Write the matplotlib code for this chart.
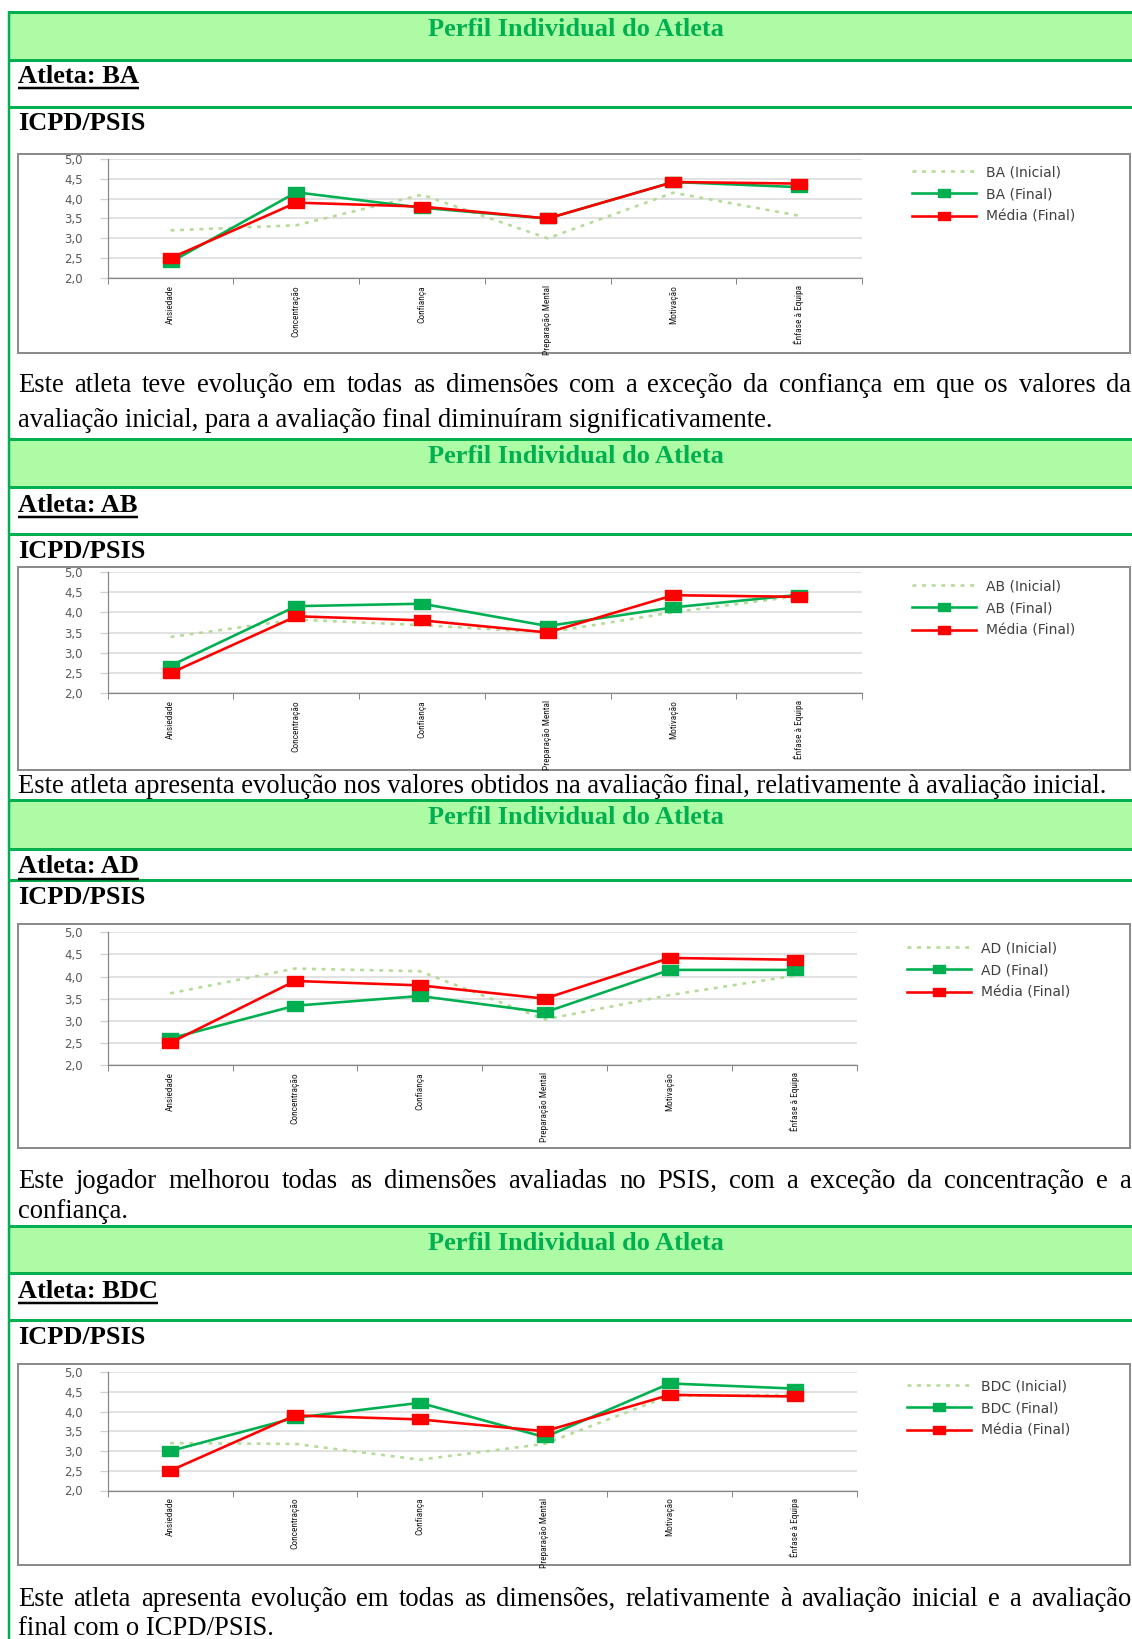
import matplotlib
matplotlib.use('Agg')
import matplotlib.pyplot as plt
from matplotlib.patches import Rectangle
import numpy as np

# ---------------- data ----------------
categories = ['Ansiedade', 'Concentração', 'Confiança', 'Preparação Mental',
              'Motivação', 'Ênfase à Equipa']
y_ticks = [2.0, 2.5, 3.0, 3.5, 4.0, 4.5, 5.0]
y_tick_labels = ['2,0', '2,5', '3,0', '3,5', '4,0', '4,5', '5,0']

media_final = [2.50, 3.90, 3.80, 3.50, 4.42, 4.38]

athletes = ['BA', 'AB', 'AD', 'BDC']
ba_inicial = [3.20, 3.33, 4.10, 3.00, 4.15, 3.57]
ba_final = [2.40, 4.16, 3.77, 3.50, 4.42, 4.29]
ab_inicial = [3.39, 3.82, 3.68, 3.50, 4.00, 4.40]
ab_final = [2.68, 4.15, 4.21, 3.66, 4.12, 4.43]
ad_inicial = [3.62, 4.18, 4.12, 3.03, 3.58, 4.02]
ad_final = [2.60, 3.34, 3.56, 3.19, 4.15, 4.15]
bdc_inicial = [3.20, 3.18, 2.78, 3.18, 4.40, 4.42]
bdc_final = [3.00, 3.84, 4.22, 3.35, 4.71, 4.58]

inicial_series = [ba_inicial, ab_inicial, ad_inicial, bdc_inicial]
final_series = [ba_final, ab_final, ad_final, bdc_final]

header_text = 'Perfil Individual do Atleta'
section_label = 'ICPD/PSIS'
comments = [
    ['Este atleta teve evolução em todas as dimensões com a exceção da confiança em que os valores da',
     'avaliação inicial, para a avaliação final diminuíram significativamente.'],
    ['Este atleta apresenta evolução nos valores obtidos na avaliação final, relativamente à avaliação inicial.'],
    ['Este jogador melhorou todas as dimensões avaliadas no PSIS, com a exceção da concentração e a',
     'confiança.'],
    ['Este atleta apresenta evolução em todas as dimensões, relativamente à avaliação inicial e a avaliação',
     'final com o ICPD/PSIS.'],
]

# ---------------- layout (pixels) ----------------
W, H = 1132, 1639
layout = [
    dict(htop=12, hbot=59.5, atl=76.3, rline=106.5, icpd=123.3, box=(153.5, 353),
         plot=(107.7, 159, 862, 278), leg=(912, 165), text=[384.6, 420.2]),
    dict(htop=439, hbot=487, atl=505, rline=534, icpd=551, box=(567, 770),
         plot=(107.7, 571.7, 862, 693.3), leg=(912, 579), text=[786]),
    dict(htop=800, hbot=849, atl=866.5, rline=880, icpd=898, box=(924, 1148),
         plot=(107.7, 932.3, 857, 1065), leg=(907, 941), text=[1181, 1211]),
    dict(htop=1226, hbot=1273, atl=1291, rline=1320, icpd=1337, box=(1364, 1565),
         plot=(107.7, 1372, 857, 1490.5), leg=(907, 1379), text=[1599, 1628]),
]

GREEN = '#00B050'
RED = '#FF0000'
LIGHT = '#B4DC96'
BAND = '#ADFCA5'
SERIF = ['Liberation Serif', 'DejaVu Serif']
NARROW = ['Roboto Condensed', 'Liberation Sans Narrow', 'Roboto', 'DejaVu Sans']
PX = 0.72  # points per pixel

fig = plt.figure(figsize=(W / 100, H / 100), dpi=100)
bg = fig.add_axes([0, 0, 1, 1])
bg.set_xlim(0, W)
bg.set_ylim(H, 0)
bg.axis('off')
renderer = fig.canvas.get_renderer()


def text_width(s, **kw):
    t = bg.text(0, 0, s, **kw)
    w = t.get_window_extent(renderer).width
    t.remove()
    return w


# body font size fitted on the single-line comment
ref_line = comments[1][0]
body_fs = 17 * (1092 / text_width(ref_line, fontsize=17, family=SERIF))
BOLD_FS = 19

# x label size fitted so that the longest label is about 70 px long
xl_fs = 7 * (70 / text_width('Preparação Mental', fontsize=7, family=NARROW))

# left border
bg.plot([9, 9], [11, H], color=GREEN, lw=2.5 * PX, solid_capstyle='butt')

xr = np.arange(len(categories))
for i, L in enumerate(layout):
    # header band
    bg.add_patch(Rectangle((9, L['htop']), W - 9, L['hbot'] - L['htop'],
                           facecolor=BAND, edgecolor='none', zorder=0))
    for yy in (L['htop'], L['hbot'], L['rline']):
        bg.plot([9, W], [yy, yy], color=GREEN, lw=3 * PX, solid_capstyle='butt')
    bg.text(576, L['htop'] + 17.5, header_text, family=SERIF, fontweight='bold',
            fontsize=BOLD_FS, color=GREEN, ha='center', va='center')
    # athlete label with underline
    lab = 'Atleta: ' + athletes[i]
    bg.text(18, L['atl'], lab, family=SERIF, fontweight='bold', fontsize=BOLD_FS,
            ha='left', va='center')
    wlab = text_width(lab, family=SERIF, fontweight='bold', fontsize=BOLD_FS)
    bg.plot([18, 18 + wlab], [L['atl'] + 12, L['atl'] + 12], color='black',
            lw=2.5 * PX, solid_capstyle='butt')
    bg.text(18, L['icpd'], section_label, family=SERIF, fontweight='bold',
            fontsize=BOLD_FS, ha='left', va='center')

    # chart box
    b0, b1 = L['box']
    bg.add_patch(Rectangle((18.3, b0), 1130 - 18.3, b1 - b0, facecolor='white',
                           edgecolor='#8C8C8C', lw=2 * PX, zorder=1))

    # comment text
    for j, line in enumerate(comments[i]):
        yb = L['text'][j] + 7
        if j == 0 and len(comments[i]) > 1:
            words = line.split(' ')
            ws = [text_width(w, fontsize=body_fs, family=SERIF) for w in words]
            gap = (1131 - 18 - sum(ws)) / (len(words) - 1)
            x = 18
            for w, ww in zip(words, ws):
                bg.text(x, yb, w, fontsize=body_fs, family=SERIF, ha='left', va='baseline')
                x += ww + gap
        else:
            bg.text(18, yb, line, fontsize=body_fs, family=SERIF, ha='left', va='baseline')

    # chart axes
    x0, y0, x1, y1 = L['plot']
    ax = fig.add_axes([x0 / W, 1 - y1 / H, (x1 - x0) / W, (y1 - y0) / H])
    ax.set_facecolor('none')
    ax.set_xlim(-0.5, len(categories) - 0.5)
    ax.set_ylim(2.0, 5.0)
    ax.set_yticks(y_ticks)
    ax.set_yticklabels(y_tick_labels, fontsize=8.5, color='#595959', family='DejaVu Sans')
    ax.tick_params(axis='y', length=6, color='#D0D0D0', width=1.3 * PX, pad=12)
    ax.grid(axis='y', color='#D9D9D9', lw=1.5 * PX)
    ax.set_axisbelow(True)
    ax.set_xticks(xr)
    ax.set_xticklabels(categories, rotation=90, fontsize=xl_fs, family=NARROW,
                       color='#1A1A1A', va='top', ha='center')
    ax.set_xticks(np.arange(-0.5, len(categories), 1.0), minor=True)
    ax.tick_params(axis='x', which='major', length=0, pad=5)
    ax.tick_params(axis='x', which='minor', length=4, color='#868686', width=1 * PX)
    for s in ('top', 'right'):
        ax.spines[s].set_visible(False)
    for s in ('left', 'bottom'):
        ax.spines[s].set_color('#868686')
        ax.spines[s].set_linewidth(1.2 * PX)

    rect = [(-1, -0.6), (1, -0.6), (1, 0.6), (-1, 0.6), (-1, -0.6)]
    l1, = ax.plot(xr, inicial_series[i], color=LIGHT, lw=2.6 * PX,
                  dashes=(1.5, 2.2), label=f'{athletes[i]} (Inicial)', clip_on=False)
    l2, = ax.plot(xr, final_series[i], color=GREEN, lw=2.6 * PX, marker=rect,
                  markersize=12, label=f'{athletes[i]} (Final)', clip_on=False)
    l3, = ax.plot(xr, media_final, color=RED, lw=2.6 * PX, marker=rect,
                  markersize=12, label='Média (Final)', clip_on=False)

    lx, ly = L['leg']
    leg = ax.legend(handles=[l1, l2, l3], loc='upper left', bbox_to_anchor=(lx, ly),
                    bbox_transform=bg.transData, frameon=False, fontsize=10,
                    handlelength=4.6, handletextpad=0.75, labelspacing=0.6,
                    borderpad=0, borderaxespad=0, numpoints=1, markerscale=0.75)
    for t in leg.get_texts():
        t.set_color('#404040')

fig.savefig('out.png', dpi=100)
